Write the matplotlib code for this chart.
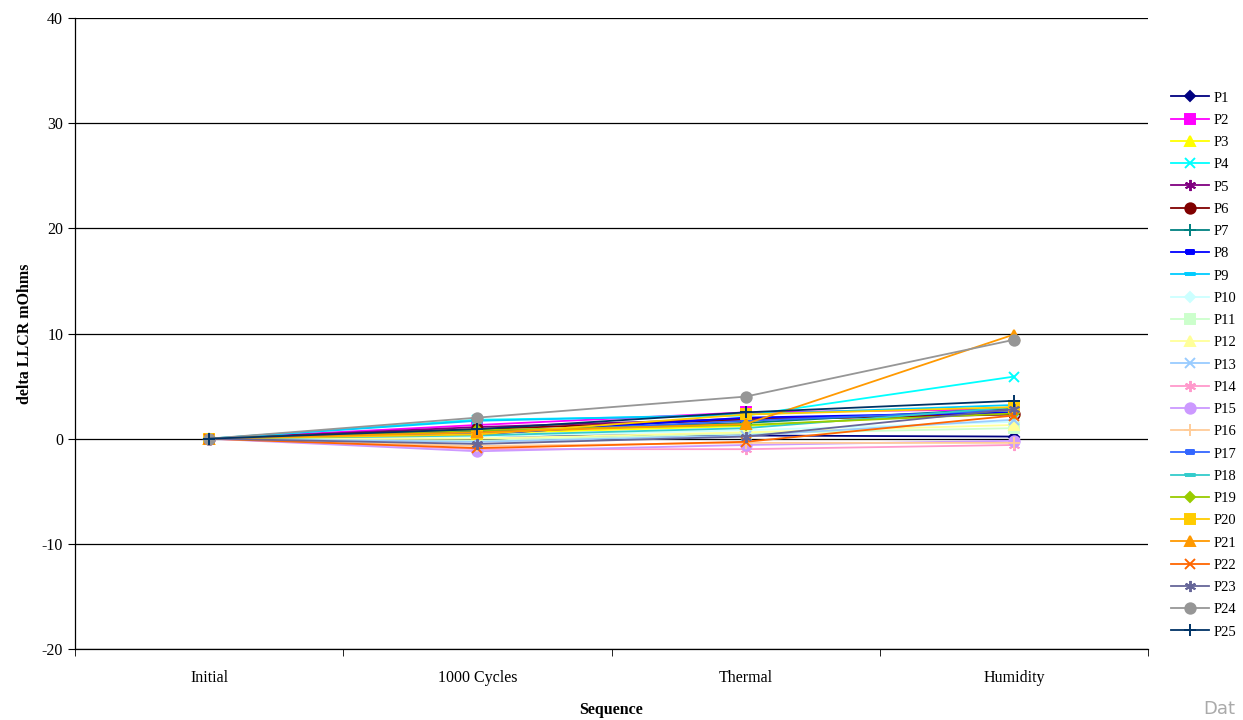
import matplotlib
matplotlib.use("Agg")
from matplotlib import pyplot as plt
import numpy as np

plt.rcParams['font.family'] = ['Liberation Serif', 'DejaVu Serif']
plt.rcParams['axes.unicode_minus'] = False

stages = ["Initial", "1000 Cycles", "Thermal", "Humidity"]
names = ["P%d" % i for i in range(1, 26)]

# delta LLCR (mOhms) per sample at each stage
vals = {
    "P1":  [0, 0.3, 0.3, 0.2],
    "P2":  [0, 1.3, 2.5, 2.8],
    "P3":  [0, 0.5, 1.2, 2.6],
    "P4":  [0, 1.8, 2.2, 5.9],
    "P5":  [0, 1.1, 1.9, 2.4],
    "P6":  [0, 0.9, 1.8, 2.3],
    "P7":  [0, 0.7, 1.5, 2.9],
    "P8":  [0, 0.4, 2.0, 2.5],
    "P9":  [0, 1.7, 2.3, 3.2],
    "P10": [0, 0.2, 0.8, 1.6],
    "P11": [0, -0.2, 0.5, 1.0],
    "P12": [0, 0.0, 0.6, 1.3],
    "P13": [0, -0.3, 0.3, 1.8],
    "P14": [0, -1.0, -1.0, -0.6],
    "P15": [0, -1.2, -0.6, -0.2],
    "P16": [0, -0.7, -0.4, -0.4],
    "P17": [0, 0.5, 1.7, 2.7],
    "P18": [0, 0.3, 1.0, 3.0],
    "P19": [0, 0.8, 1.3, 2.4],
    "P20": [0, 0.4, 2.3, 3.0],
    "P21": [0, 0.6, 1.4, 9.9],
    "P22": [0, -0.9, -0.3, 2.2],
    "P23": [0, -0.5, 0.2, 2.8],
    "P24": [0, 2.0, 4.0, 9.4],
    "P25": [0, 0.9, 2.5, 3.6],
}

colors = ["#000080", "#FF00FF", "#FFFF00", "#00FFFF", "#800080", "#800000",
          "#008080", "#0000FF", "#00CCFF", "#CCFFFF", "#CCFFCC", "#FFFF99",
          "#99CCFF", "#FF99CC", "#CC99FF", "#FFCC99", "#3366FF", "#33CCCC",
          "#99CC00", "#FFCC00", "#FF9900", "#FF6600", "#666699", "#969696",
          "#003366"]

short_bar = [(-0.5, -0.25), (0.5, -0.25), (0.5, 0.25), (-0.5, 0.25), (-0.5, -0.25)]
long_bar = [(-1, -0.25), (1, -0.25), (1, 0.25), (-1, 0.25), (-1, -0.25)]
# excel's marker cycle
marker_cycle = [("D", 5.5), ("s", 6.5), ("^", 6.5), ("x", 7), ((6, 2, 0), 8), ("o", 7.5),
                ("+", 8.5), (short_bar, 6), (long_bar, 7)]

fig = plt.figure(figsize=(12.43, 7.2), dpi=100)
ax = fig.add_axes([75 / 1243, 1 - 649 / 720, 1073 / 1243, 631 / 720])

x = np.arange(len(stages))
for i, name in enumerate(names):
    mk, ms = marker_cycle[i % len(marker_cycle)]
    c = colors[i]
    ax.plot(x, vals[name], color=c, lw=1.3, marker=mk, markersize=ms,
            markerfacecolor=c, markeredgecolor=c, markeredgewidth=1.4,
            label=name, zorder=3)

ax.set_xlim(-0.5, len(stages) - 0.5)
ax.set_ylim(-20, 40)
ax.set_yticks(np.arange(-20, 41, 10))
ax.yaxis.grid(True, color="black", lw=0.9)
ax.set_axisbelow(True)
ax.set_xticks(x)
ax.set_xticklabels(stages, fontsize=11.5)
ax.set_xticks(np.arange(-0.5, len(stages), 1), minor=True)
ax.tick_params(axis="x", which="major", length=0, pad=15)
ax.tick_params(axis="x", which="minor", length=5, color="black")
ax.tick_params(axis="y", length=5, labelsize=11.5)
for s in ["top", "right"]:
    ax.spines[s].set_visible(False)
for s in ["left", "bottom"]:
    ax.spines[s].set_color("black")
    ax.spines[s].set_linewidth(0.9)

ax.set_xlabel("Sequence", fontsize=11.5, fontweight="bold", labelpad=12)
ax.set_ylabel("delta LLCR mOhms", fontsize=11.5, fontweight="bold", labelpad=6)

ax.legend(loc="upper left", bbox_to_anchor=(1.016, 0.893), frameon=False,
          fontsize=10.5, handlelength=2.6, labelspacing=0.62, borderaxespad=0,
          handletextpad=0.3)

fig.text(0.968, 0.003, "Dat", color="#aaaaaa", fontsize=13,
         family="DejaVu Sans", ha="left", va="bottom")

fig.savefig("out.png", dpi=100)
